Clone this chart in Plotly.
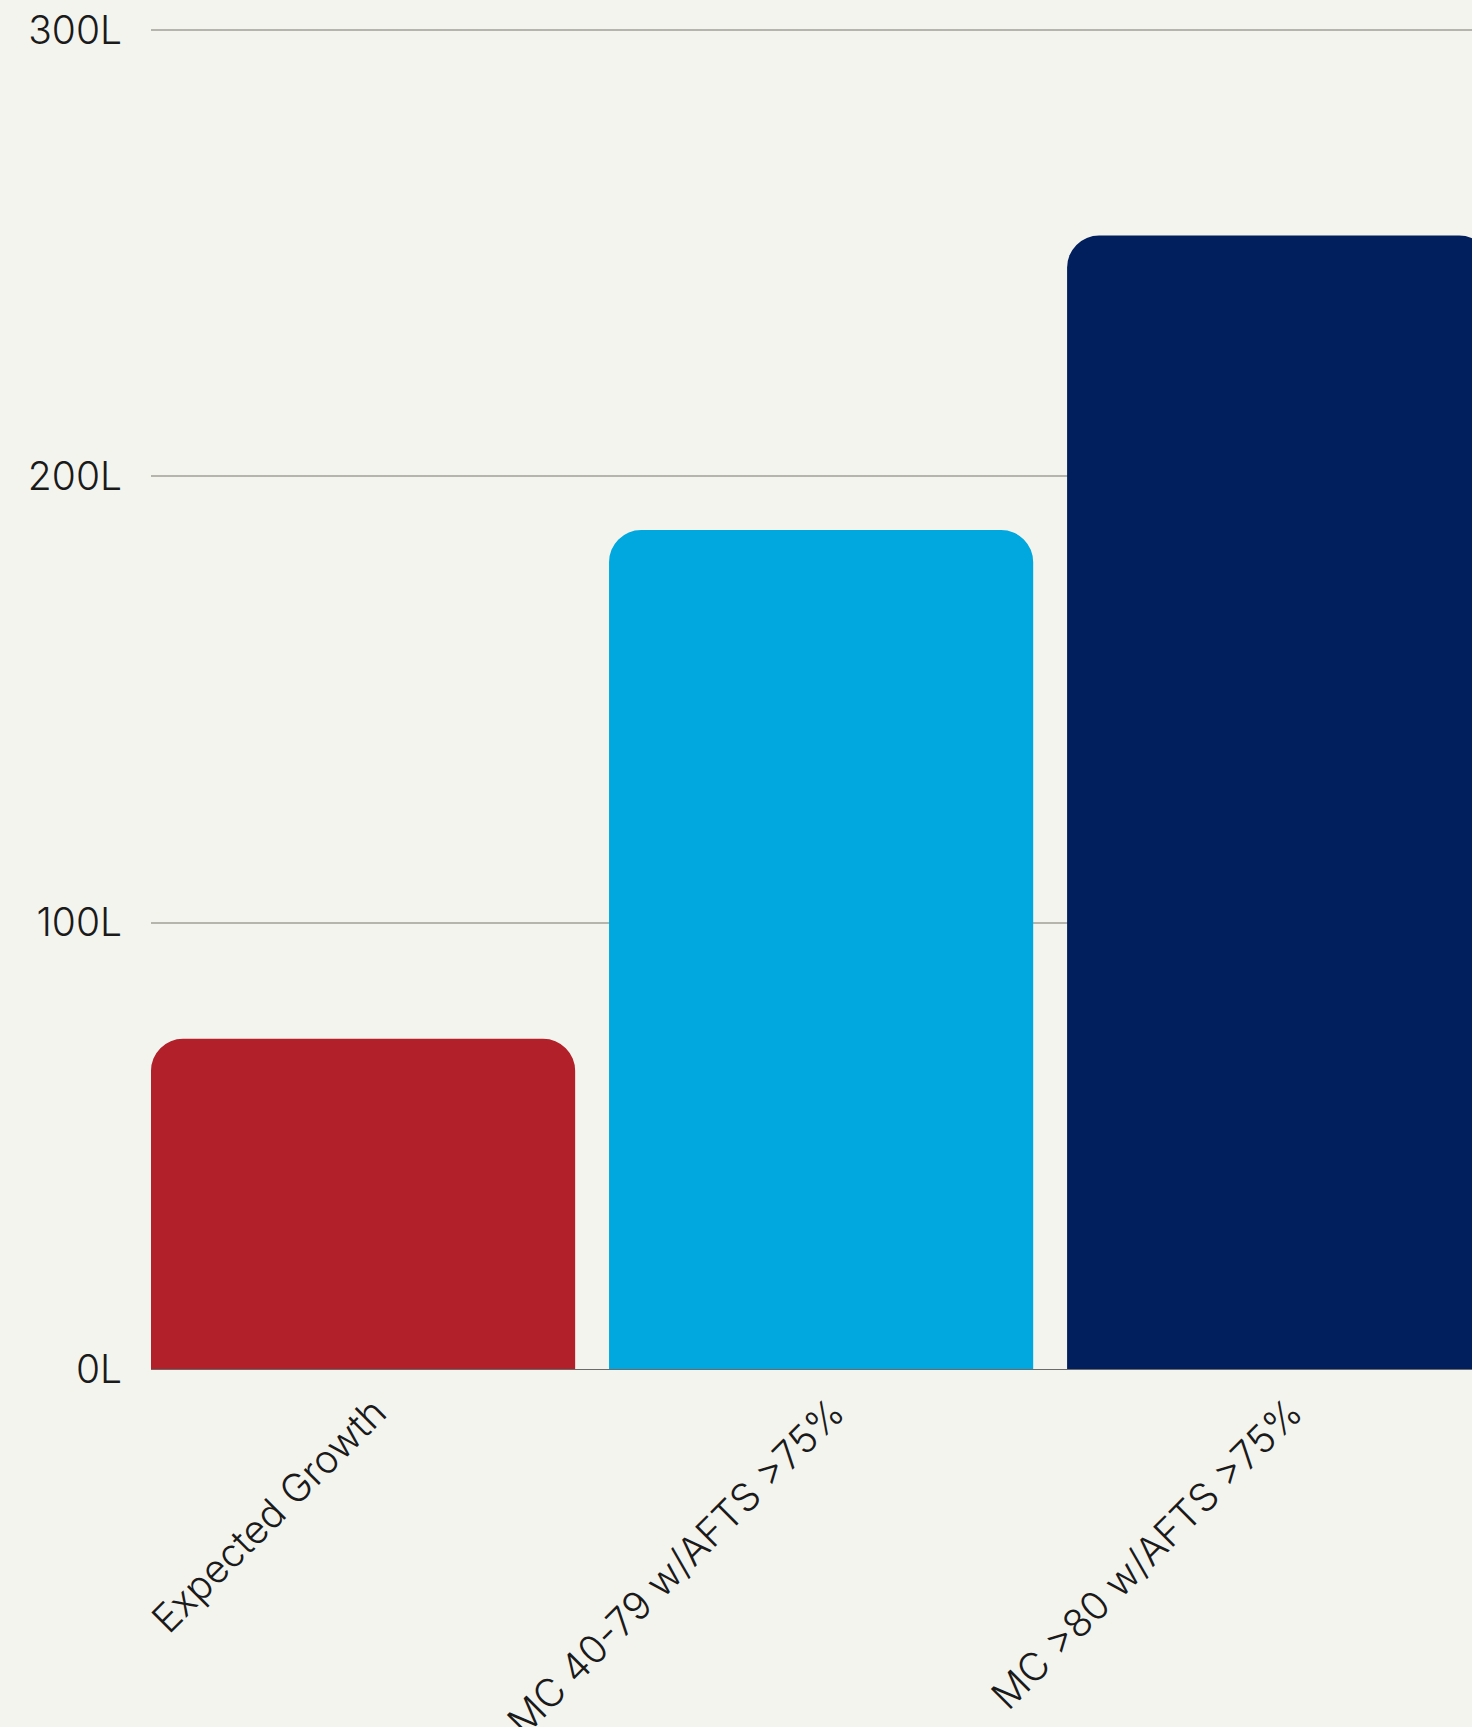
import plotly.graph_objects as go

categories = ["Expected Growth", "MC 40-79 w/AFTS >75%", "MC >80 w/AFTS >75%"]
values = [74, 188, 254]
colors = ["#b22029", "#00a8df", "#001f5c"]
tick_vals = [0, 100, 200, 300]
tick_text = ["0L", "100L", "200L", "300L"]

fig = go.Figure(
    go.Bar(
        x=list(range(len(categories))),
        y=values,
        marker=dict(color=colors, cornerradius=32, line=dict(width=0)),
        width=0.926,
        hoverinfo="skip",
    )
)

fig.update_layout(
    width=1472,
    height=1727,
    margin=dict(l=151, r=0, t=28, b=358, autoexpand=False),
    paper_bgcolor="#f4f4ef",
    plot_bgcolor="#f4f4ef",
    showlegend=False,
    font=dict(family="Inter", size=39, color="#1a1a1a", weight=300),
)

fig.update_xaxes(
    tickmode="array",
    tickvals=list(range(len(categories))),
    ticktext=categories,
    tickangle=-45,
    range=[-0.463, 2.421],
    showgrid=False,
    showline=True,
    linecolor="#6b6b6b",
    linewidth=1,
    ticks="",
    zeroline=False,
    ticklabelstandoff=4,
    ticklabelshift=12,
    automargin=False,
)

fig.update_yaxes(
    tickmode="array",
    tickvals=tick_vals,
    ticktext=tick_text,
    range=[0, 300.5],
    showgrid=True,
    gridcolor="#b5b5ae",
    gridwidth=1.5,
    zeroline=False,
    ticks="",
    ticklabelstandoff=28,
    automargin=False,
)

fig.write_html(
    "out.html",
    config={"displayModeBar": False},
    post_script="document.body.style.margin='0';document.body.style.background='#f4f4ef';",
)
